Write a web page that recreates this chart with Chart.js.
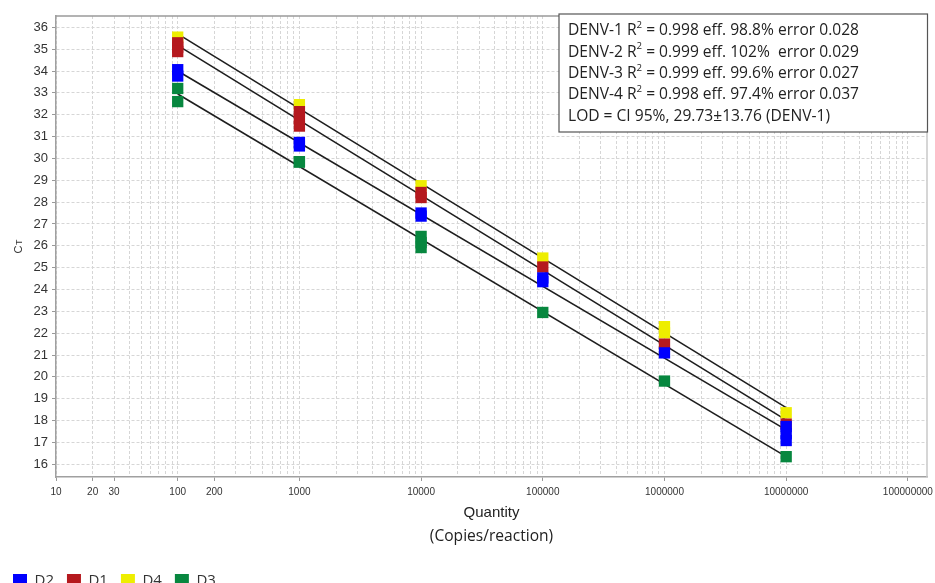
<!DOCTYPE html>
<html><head><meta charset="utf-8">
<script src="https://cdn.jsdelivr.net/npm/chart.js@4.4.1/dist/chart.umd.min.js"></script>
<style>html,body{margin:0;padding:0;background:#fff;overflow:hidden}canvas{display:block}</style>
</head><body>
<canvas id="c" width="935" height="583"></canvas>
<script>
// ---- data ----
const quantities = [100, 1000, 10000, 100000, 1000000, 10000000];
const seriesNames = ['D2', 'D1', 'D4', 'D3'];
const seriesColors = ['#0000ff', '#b5191e', '#eeee00', '#07873f'];
// Ct replicates per quantity
const d2Ct = [[34.06, 33.77], [30.73, 30.57], [27.50, 27.36], [24.53, 24.36], [21.10], [17.73, 17.40, 17.09]];
const d1Ct = [[35.29, 35.09, 34.89], [32.14, 31.81, 31.48], [28.44, 28.21], [25.03], [21.50], [17.84]];
const d4Ct = [[35.55], [32.46], [28.75], [25.44], [22.30, 22.02], [18.36]];
const d3Ct = [[33.20, 32.60], [29.85, 29.83], [26.43, 26.15, 25.92], [22.95], [19.81], [16.35]];
const xTickLabels = ['10', '20', '30', '100', '200', '1000', '10000', '100000', '1000000', '10000000', '100000000'];
const yTickValues = [16, 17, 18, 19, 20, 21, 22, 23, 24, 25, 26, 27, 28, 29, 30, 31, 32, 33, 34, 35, 36];
const boxLines = [
  'DENV-1 R² = 0.998 eff. 98.8% error 0.028',
  'DENV-2 R² = 0.999 eff. 102%  error 0.029',
  'DENV-3 R² = 0.999 eff. 99.6% error 0.027',
  'DENV-4 R² = 0.998 eff. 97.4% error 0.037',
  'LOD = CI 95%, 29.73±13.76 (DENV-1)'
];
const xTitle = 'Quantity';
const xSubTitle = '(Copies/reaction)';
const yTitleMain = 'C';
const yTitleSub = 'T';

// ---- build datasets ----
const allCt = [d2Ct, d1Ct, d4Ct, d3Ct];
function toPoints(reps) {
  const pts = [];
  reps.forEach((arr, i) => arr.forEach(v => pts.push({ x: quantities[i], y: v })));
  return pts;
}
function fitLine(reps) {
  const xs = [], ys = [];
  reps.forEach((arr, i) => arr.forEach(v => { xs.push(Math.log10(quantities[i])); ys.push(v); }));
  const n = xs.length;
  const mx = xs.reduce((a, b) => a + b, 0) / n, my = ys.reduce((a, b) => a + b, 0) / n;
  let sxy = 0, sxx = 0;
  for (let i = 0; i < n; i++) { sxy += (xs[i] - mx) * (ys[i] - my); sxx += (xs[i] - mx) ** 2; }
  const b = sxy / sxx, a = my - b * mx;
  const ends = [quantities[0], quantities[quantities.length - 1]];
  return ends.map(q => ({ x: q, y: a + b * Math.log10(q) }));
}
const datasets = [];
allCt.forEach((reps, i) => {
  datasets.push({
    label: seriesNames[i], data: toPoints(reps),
    backgroundColor: seriesColors[i], borderColor: seriesColors[i], borderWidth: 0,
    pointStyle: 'rect', pointRadius: 8, pointHoverRadius: 8, pointBorderWidth: 0, showLine: false
  });
});
allCt.forEach((reps, i) => {
  datasets.push({
    label: 'fit ' + seriesNames[i], data: fitLine(reps), showLine: true,
    borderColor: '#1e1e1e', borderWidth: 1.6, pointRadius: 0, pointHoverRadius: 0, fill: false
  });
});

const frame = {
  id: 'frame',
  beforeDatasetsDraw(chart) {
    const { ctx, chartArea: a } = chart;
    ctx.save();
    ctx.lineWidth = 1.5;
    ctx.strokeStyle = '#9a9a9a';
    ctx.beginPath(); ctx.moveTo(a.left, a.top); ctx.lineTo(a.right, a.top); ctx.stroke();
    ctx.strokeStyle = '#c8c8c8';
    ctx.beginPath(); ctx.moveTo(a.right, a.top); ctx.lineTo(a.right, a.bottom); ctx.stroke();
    ctx.restore();
  },
  afterDraw(chart) {
    const { ctx } = chart;
    ctx.save();
    // annotation box
    ctx.fillStyle = '#fff';
    ctx.fillRect(559, 14, 368.5, 118);
    ctx.strokeStyle = '#555';
    ctx.lineWidth = 1.2;
    ctx.strokeRect(559, 14, 368.5, 118);
    const fam = '"Open Sans", sans-serif';
    function richWidth(s, size) {
      const parts = s.split('²');
      ctx.font = size + 'px ' + fam;
      let w = ctx.measureText(parts[0]).width;
      if (parts.length > 1) {
        ctx.font = (size * 0.62) + 'px ' + fam; w += ctx.measureText('2').width;
        ctx.font = size + 'px ' + fam; w += ctx.measureText(parts[1]).width;
      }
      return w;
    }
    function richDraw(s, x, y, size) {
      const parts = s.split('²');
      ctx.font = size + 'px ' + fam;
      ctx.fillText(parts[0], x, y);
      x += ctx.measureText(parts[0]).width;
      if (parts.length > 1) {
        ctx.font = (size * 0.62) + 'px ' + fam;
        ctx.fillText('2', x, y - size * 0.36);
        x += ctx.measureText('2').width;
        ctx.font = size + 'px ' + fam;
        ctx.fillText(parts[1], x, y);
      }
    }
    const size = 15 * 291 / richWidth(boxLines[0], 15);
    ctx.fillStyle = '#222';
    ctx.textBaseline = 'middle';
    ctx.textAlign = 'left';
    boxLines.forEach((l, i) => richDraw(l, 568, 31 + i * 21.3, size));
    // x sub title
    ctx.font = size + 'px ' + fam;
    ctx.textAlign = 'center';
    ctx.fillText(xSubTitle, (chart.chartArea.left + chart.chartArea.right) / 2, 537);
    // y title C with subscript T
    ctx.translate(21.7, 253.5);
    ctx.rotate(-Math.PI / 2);
    ctx.textAlign = 'left';
    ctx.textBaseline = 'alphabetic';
    ctx.fillStyle = '#333';
    ctx.font = '11px "Liberation Sans", Arial, sans-serif';
    ctx.fillText(yTitleMain, 0, 0);
    const cw = ctx.measureText(yTitleMain).width;
    ctx.font = '9px "Liberation Sans", Arial, sans-serif';
    ctx.fillText(yTitleSub, cw + 0.5, 0.5);
    ctx.restore();
  }
};

const labeledSet = new Set(xTickLabels);
new Chart(document.getElementById('c'), {
  type: 'scatter',
  data: { datasets },
  options: {
    responsive: false, animation: false, devicePixelRatio: 1,
    layout: { padding: { left: 0, top: 16, right: 8, bottom: -15.5 } },
    plugins: {
      tooltip: { enabled: false },
      legend: {
        position: 'bottom', align: 'start',
        labels: {
          boxWidth: 14, boxHeight: 14, padding: 13, color: '#333',
          font: { family: '"Open Sans", sans-serif', size: 15 },
          filter: item => item.datasetIndex < seriesNames.length
        }
      }
    },
    scales: {
      x: {
        type: 'logarithmic', min: 10, max: 1.436e8,
        afterBuildTicks(scale) {
          const t = [];
          for (let e = 1; e <= 8; e++) for (let n = 1; n <= 9; n++) { const v = n * Math.pow(10, e); if (v <= 1e8) t.push({ value: v }); }
          scale.ticks = t;
        },
        afterFit(scale) { scale.height = 83.5; scale.paddingLeft = 0; scale.paddingRight = 0; },
        ticks: {
          autoSkip: false, maxRotation: 0, minRotation: 0, padding: 5, color: '#333',
          font: { family: '"Liberation Sans", Arial, sans-serif', size: 10 },
          callback(v) { const s = String(Math.round(v)); return labeledSet.has(s) ? s : ''; }
        },
        grid: {
          color: '#d6d6d6', lineWidth: 1, tickLength: 4,
          tickColor: c => (c.tick && labeledSet.has(String(Math.round(c.tick.value)))) ? '#999' : 'rgba(0,0,0,0)',
          tickBorderDash: []
        },
        border: { display: true, color: '#a0a0a0', width: 1.5, dash: [3, 2] },
        title: {
          display: true, text: xTitle, color: '#222',
          font: { family: '"Liberation Sans", Arial, sans-serif', size: 15 },
          padding: { top: 0, bottom: 38.8 }
        }
      },
      y: {
        type: 'linear', min: 15.42, max: 36.517,
        afterBuildTicks(scale) { scale.ticks = yTickValues.map(v => ({ value: v })); },
        afterFit(scale) { scale.width = 56; scale.paddingTop = 0; scale.paddingBottom = 0; },
        ticks: {
          autoSkip: false, padding: 4, color: '#333',
          font: { family: '"Liberation Sans", Arial, sans-serif', size: 13 }
        },
        grid: { color: '#d6d6d6', lineWidth: 1, tickLength: 4, tickColor: '#999', tickBorderDash: [] },
        border: { display: true, color: '#a0a0a0', width: 1.5, dash: [3, 2] }
      }
    }
  },
  plugins: [frame]
});
</script>
</body></html>
